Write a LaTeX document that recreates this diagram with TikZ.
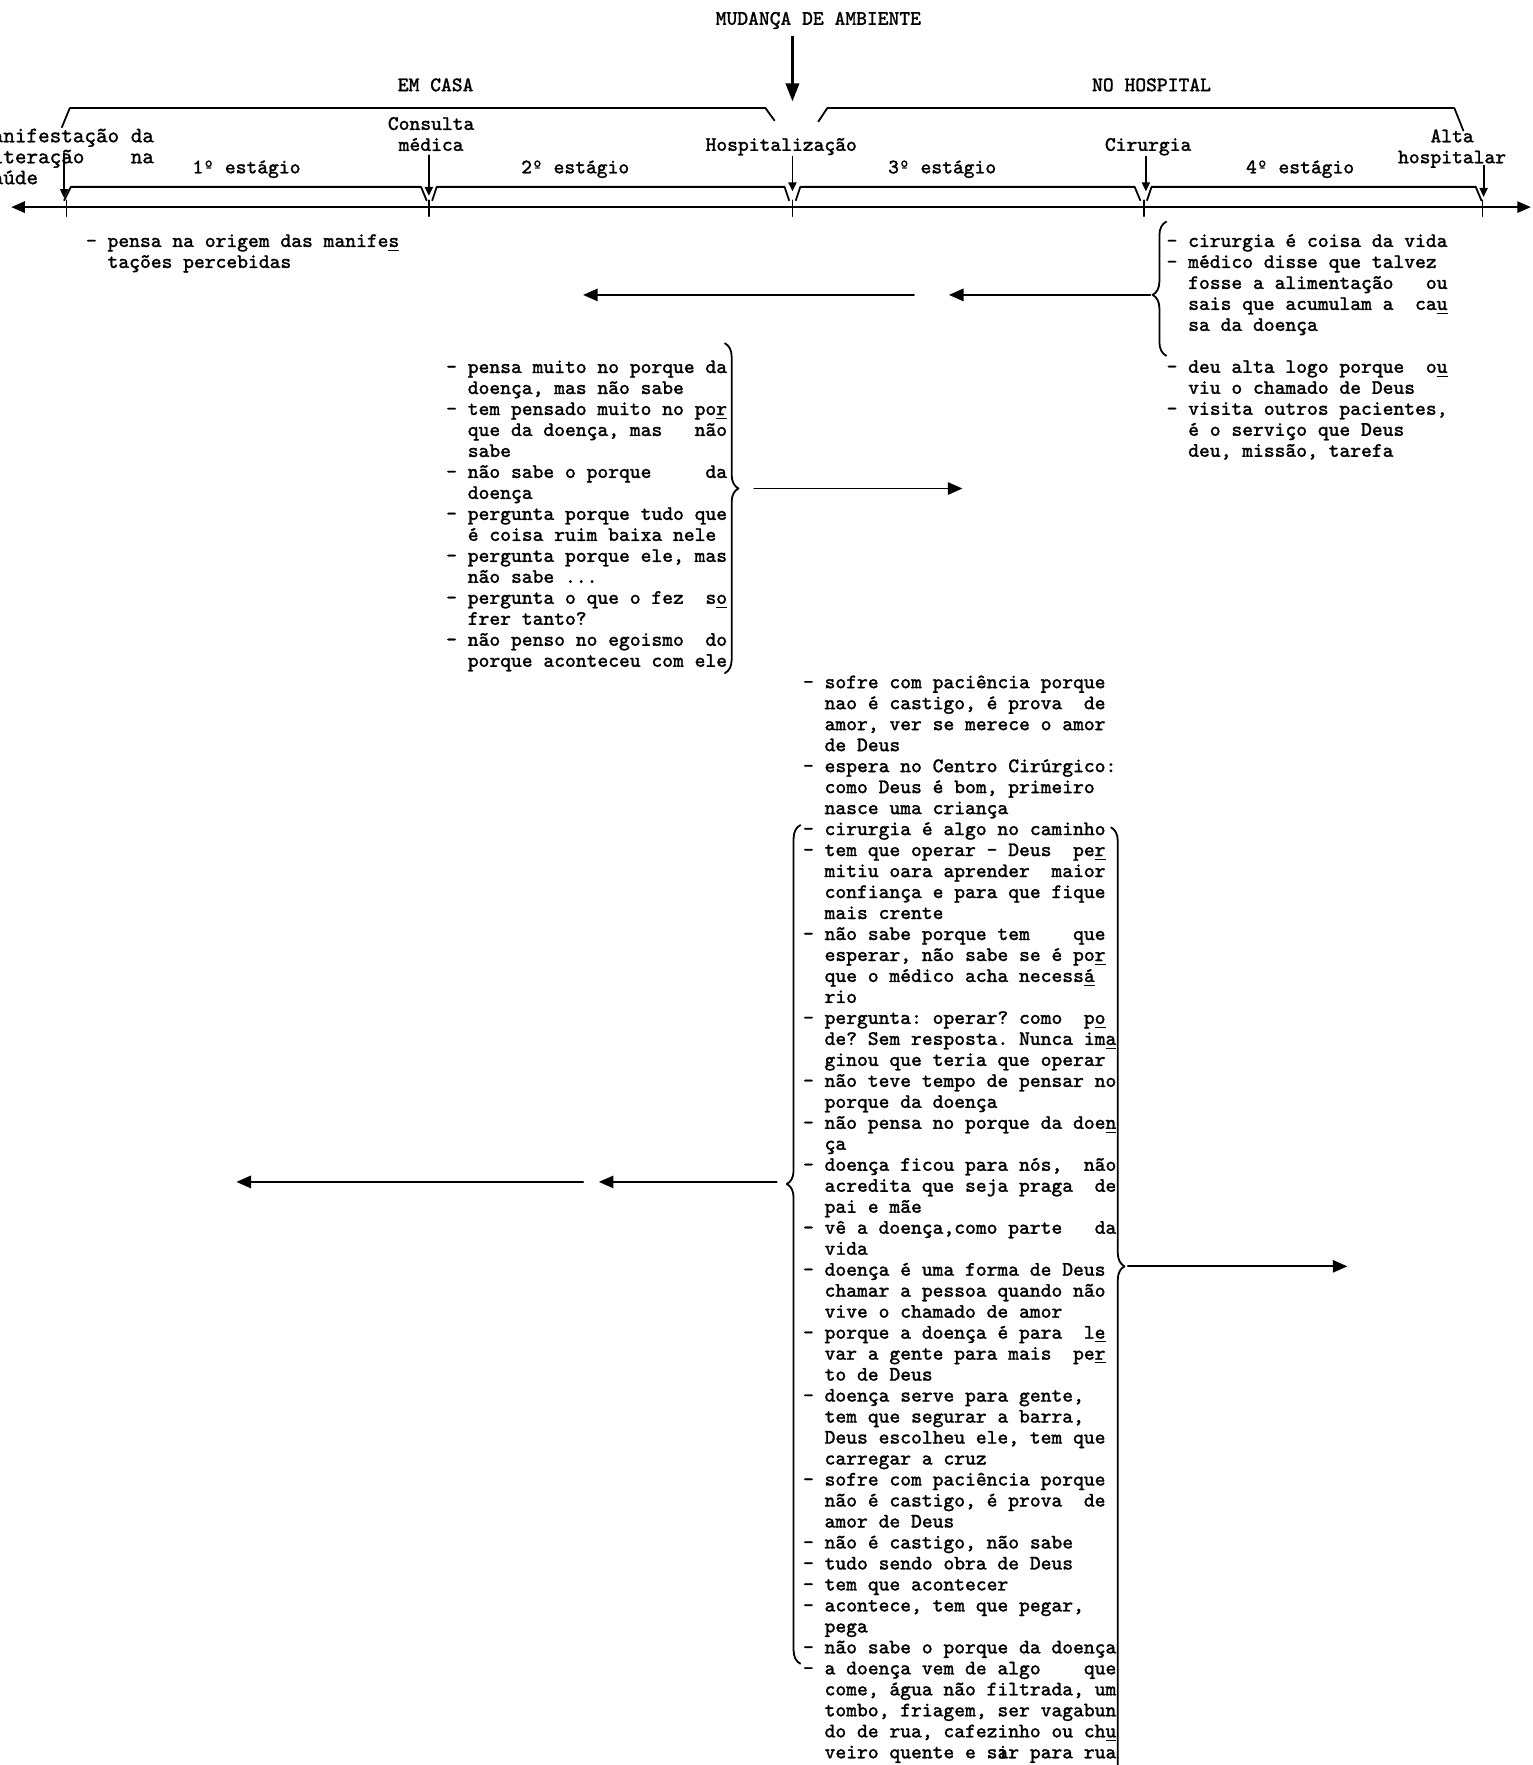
\documentclass[tikz,border=0pt]{standalone}
\usepackage{fontspec}
\setmonofont{Latin Modern Mono}
\newfontfamily\typewriter{Latin Modern Mono}[FakeBold=1.2]
\usetikzlibrary{arrows.meta,decorations.pathreplacing}
\newcommand\ind{\hspace*{1.05em}}
\newcommand\hy[1]{\underline{#1}}
\newcommand\fl{\rule{0pt}{8pt}}
\frenchspacing
\begin{document}
\begin{tikzpicture}[x=0.5pt,y=-0.5pt,
  txt/.style={font=\fontsize{9.14}{9.32}\selectfont\typewriter\frenchspacing,inner sep=0pt},
  block/.style={txt,align=left,anchor=north west},
  cblock/.style={txt,align=center,anchor=north},
  lbl/.style={txt,anchor=base},
  ln/.style={line width=0.8pt,line join=round,line cap=round},
  harrow/.style={ln,-{Triangle[length=6.5pt,width=5.5pt]}},
  varrow/.style={ln,-{Triangle[length=4pt,width=3.6pt]}},
  bracel/.style={ln,decorate,decoration={brace,amplitude=6pt,aspect=#1}},
]
\useasboundingbox (0,0) rectangle (1361,1568);

% ---- title and the change of setting
\node[lbl] (title) at (727,22) {MUDANÇA DE AMBIENTE};
\coordinate (mudTop) at (704,32);
\coordinate (mudBot) at (704,90);
\draw[line width=1pt,-{Triangle[length=8pt,width=6pt]}] (mudTop) -- (mudBot);

\node[lbl] (casa) at (387,81) {EM CASA};
\node[lbl] (hospital) at (1023,81) {NO HOSPITAL};

% ---- the two large brackets
\draw[ln] (55,113) -- (62,96) -- (680,96) -- (688,107);
\draw[ln] (727,108) -- (735,96) -- (1292,96) -- (1300,116);

% ---- events
\node[block,font=\fontsize{9.8}{9.32}\selectfont\typewriter] (manif) at (-18,110)
  {\fl Manifestação da\\alteração~~~~na\\saúde};
\node[cblock] (consulta) at (383,99) {\fl Consulta\\médica};
\node[lbl] (hosp) at (694,134) {Hospitalização};
\node[lbl] (cir) at (1020,134) {Cirurgia};
\node[cblock] (alta) at (1290,110) {\fl Alta\\hospitalar};

% ---- stages
\node[lbl] (e1) at (219,154) {1º estágio};
\node[lbl] (e2) at (511,154) {2º estágio};
\node[lbl] (e3) at (837,154) {3º estágio};
\node[lbl] (e4) at (1155,154) {4º estágio};

\draw[ln] (57,178) -- (63,166) -- (374,166) -- (379,178);
\draw[ln] (384,178) -- (388,166) -- (697,166) -- (701,178);
\draw[ln] (707,178) -- (711,166) -- (1008,166) -- (1013,178);
\draw[ln] (1019,178) -- (1023,166) -- (1311,166) -- (1316,178);

% ---- time axis
\coordinate (axL) at (10,184);
\coordinate (axR) at (1360,184);
\draw[ln,{Triangle[length=6pt,width=5pt]}-{Triangle[length=6pt,width=5pt]}] (axL) -- (axR);
\foreach \x in {59,381,704,1016,1317} \draw[ln] (\x,178) -- (\x,192);

\coordinate (a1s) at (57,136);   \coordinate (a1e) at (57,176);
\coordinate (a2s) at (381,138);  \coordinate (a2e) at (381,174);
\coordinate (a3s) at (704,139);  \coordinate (a3e) at (704,170);
\coordinate (a4s) at (1018,139); \coordinate (a4e) at (1018,170);
\coordinate (a5s) at (1318,147); \coordinate (a5e) at (1318,175);
\draw[varrow] (a1s) -- (a1e);
\draw[varrow] (a2s) -- (a2e);
\draw[varrow] (a3s) -- (a3e);
\draw[varrow] (a4s) -- (a4e);
\draw[varrow] (a5s) -- (a5e);

% ---- first stage
\node[block] (origem) at (76,203) {\fl - pensa na origem das manife\hy{s}\\\ind tações percebidas};

% ---- fourth stage
\node[block] (quarto) at (1036,203) {\fl - cirurgia é coisa da vida\\
- médico disse que talvez\\
\ind fosse a alimentação~~~ou\\
\ind sais que acumulam a~~ca\hy{u}\\
\ind sa da doença\\
\mbox{}\\
- deu alta logo porque~~o\hy{u}\\
\ind viu o chamado de Deus\\
- visita outros pacientes,\\
\ind é o serviço que Deus\\
\ind deu, missão, tarefa};
\coordinate (bq1) at (1036,316); \coordinate (bq2) at (1036,197);
\draw[bracel=0.454] (bq1) -- (bq2);
\coordinate (q1s) at (1022,262); \coordinate (q1e) at (843,262);
\coordinate (q2s) at (812,262);  \coordinate (q2e) at (518,262);
\draw[harrow] (q1s) -- (q1e);
\draw[harrow] (q2s) -- (q2e);

% ---- second stage
\node[block] (segundo) at (396,315) {\fl - pensa muito no porque da\\
\ind doença, mas não sabe\\
- tem pensado muito no po\hy{r}\\
\ind que da doença, mas~~~não\\
\ind sabe\\
- não sabe o porque~~~~~da\\
\ind doença\\
- pergunta porque tudo que\\
\ind é coisa ruim baixa nele\\
- pergunta porque ele, mas\\
\ind não sabe ...\\
- pergunta o que o fez~~s\hy{o}\\
\ind frer tanto?\\
- não penso no egoismo~~do\\
\ind porque aconteceu com ele};
\coordinate (bs1) at (644,305); \coordinate (bs2) at (644,598);
\draw[bracel=0.44] (bs1) -- (bs2);
\coordinate (s1s) at (670,434); \coordinate (s1e) at (855,434);
\draw[harrow] (s1s) -- (s1e);

% ---- third stage
\node[block] (terceiro) at (713,595) {\fl - sofre com paciência porque\\
\ind nao é castigo, é prova~~de\\
\ind amor, ver se merece o amor\\
\ind de Deus\\
- espera no Centro Cirúrgico:\\
\ind como Deus é bom, primeiro\\
\ind nasce uma criança\\
- cirurgia é algo no caminho\\
- tem que operar - Deus~~pe\hy{r}\\
\ind mitiu oara aprender~~maior\\
\ind confiança e para que fique\\
\ind mais crente\\
- não sabe porque tem~~~~que\\
\ind esperar, não sabe se é po\hy{r}\\
\ind que o médico acha necess\hy{á}\\
\ind rio\\
- pergunta: operar? como~~p\hy{o}\\
\ind de? Sem resposta. Nunca im\hy{a}\\
\ind ginou que teria que operar\\
- não teve tempo de pensar no\\
\ind porque da doença\\
- não pensa no porque da doe\hy{n}\\
\ind ça\\
- doença ficou para nós,~~não\\
\ind acredita que seja praga~~de\\
\ind pai e mãe\\
- vê a doença,como parte~~~da\\
\ind vida\\
- doença é uma forma de Deus\\
\ind chamar a pessoa quando não\\
\ind vive o chamado de amor\\
- porque a doença é para~~l\hy{e}\\
\ind var a gente para mais~~pe\hy{r}\\
\ind to de Deus\\
- doença serve para gente,\\
\ind tem que segurar a barra,\\
\ind Deus escolheu ele, tem que\\
\ind carregar a cruz\\
- sofre com paciência porque\\
\ind não é castigo, é prova~~de\\
\ind amor de Deus\\
- não é castigo, não sabe\\
- tudo sendo obra de Deus\\
- tem que acontecer\\
- acontece, tem que pegar,\\
\ind pega\\
- não sabe o porque da doença\\
- a doença vem de algo~~~~que\\
\ind come, água não filtrada, um\\
\ind tombo, friagem, ser vagabun\\
\ind do de rua, cafezinho ou ch\hy{u}\\
\ind veiro quente e s\rlap{a}ir para rua};
\coordinate (bt1) at (711,1478); \coordinate (bt2) at (711,733);
\draw[bracel=0.572] (bt1) -- (bt2);
\coordinate (bt3) at (987,735); \coordinate (bt4) at (987,1580);
\draw[bracel=0.4615] (bt3) -- (bt4);
\coordinate (t1s) at (690,1050); \coordinate (t1e) at (532,1050);
\coordinate (t2s) at (518,1050); \coordinate (t2e) at (210,1050);
\coordinate (t3s) at (1002,1125); \coordinate (t3e) at (1197,1125);
\draw[harrow] (t1s) -- (t1e);
\draw[harrow] (t2s) -- (t2e);
\draw[harrow] (t3s) -- (t3e);
\end{tikzpicture}
\end{document}
